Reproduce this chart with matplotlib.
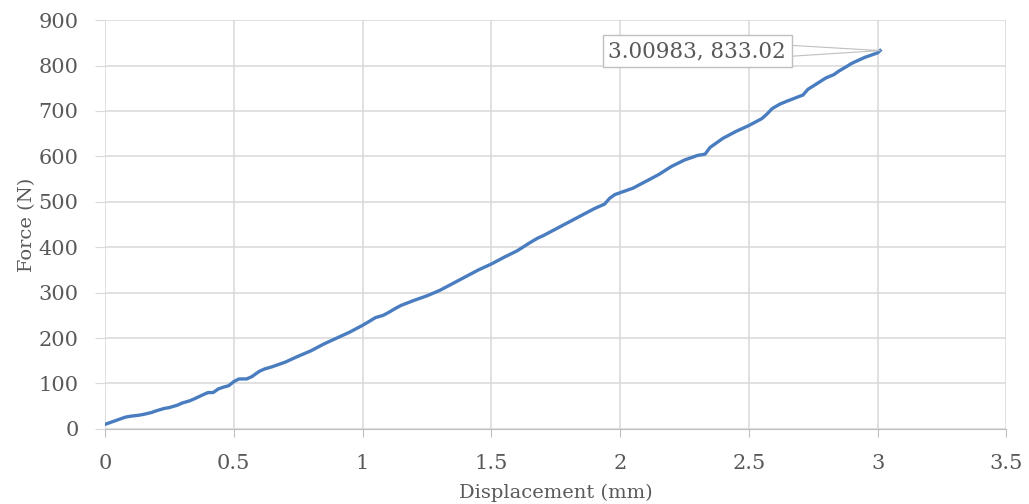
import numpy as np
import matplotlib
matplotlib.use('Agg')
import matplotlib.pyplot as plt

# displacement (mm) and force (N)
disp = [0.0, 0.02, 0.05, 0.08, 0.1, 0.13, 0.15, 0.18, 0.2, 0.23, 0.25, 0.28, 0.3, 0.33, 0.35,
        0.38, 0.4, 0.42, 0.44, 0.46, 0.48, 0.5, 0.52, 0.55, 0.57, 0.6, 0.62, 0.65, 0.7, 0.75,
        0.8, 0.85, 0.9, 0.95, 1.0, 1.03, 1.05, 1.08, 1.1, 1.13, 1.15, 1.2, 1.25, 1.3, 1.35,
        1.4, 1.45, 1.5, 1.55, 1.6, 1.65, 1.68, 1.7, 1.75, 1.8, 1.85, 1.9, 1.94, 1.96, 1.98,
        2.0, 2.05, 2.1, 2.15, 2.2, 2.25, 2.3, 2.33, 2.35, 2.38, 2.4, 2.45, 2.5, 2.55, 2.57,
        2.59, 2.62, 2.65, 2.7, 2.71, 2.73, 2.75, 2.8, 2.83, 2.85, 2.88, 2.9, 2.95, 3.0, 3.00983]
force = [10, 14, 20, 26, 28, 30, 32, 36, 40, 45, 47, 52, 57, 62, 67,
         75, 80, 80, 88, 92, 95, 104, 110, 110, 115, 127, 132, 137, 147, 160,
         172, 187, 200, 213, 228, 238, 245, 250, 256, 266, 272, 283, 293, 305, 320,
         335, 350, 363, 378, 392, 410, 420, 425, 440, 455, 470, 485, 495, 508, 516,
         520, 530, 545, 560, 578, 592, 602, 605, 620, 632, 640, 655, 668, 683, 693,
         705, 715, 722, 733, 735, 748, 755, 773, 780, 788, 798, 805, 818, 828, 833.02]

grey = '#595959'
plt.rcParams['font.family'] = 'DejaVu Serif'

fig = plt.figure(figsize=(10.29, 5.04), dpi=100)
ax = fig.add_axes([0.102, 0.149, 0.876, 0.811])

ax.plot(disp, force, color='#4a7dc0', lw=2.4, solid_joinstyle='round')

ax.set_xlim(0, 3.5)
ax.set_ylim(0, 900)
ax.set_xticks(np.arange(0, 3.51, 0.5))
ax.set_xticklabels(['0', '0.5', '1', '1.5', '2', '2.5', '3', '3.5'])
ax.set_yticks(np.arange(0, 901, 100))
ax.grid(True, color='#d9d9d9', lw=1.1)
ax.set_axisbelow(True)
for s in ['top', 'right', 'left']:
    ax.spines[s].set_visible(False)
ax.spines['bottom'].set_color('#bfbfbf')
ax.tick_params(axis='x', length=6, color='#bfbfbf', labelsize=15, labelcolor=grey, pad=12)
ax.tick_params(axis='y', length=7, color='#d9d9d9', labelsize=15, labelcolor=grey, pad=12)

ax.set_xlabel('Displacement (mm)', fontsize=14, color=grey, labelpad=8)
ax.set_ylabel('Force (N)', fontsize=14, color=grey, labelpad=2)

ax.annotate('3.00983, 833.02', xy=(disp[-1], force[-1]), xytext=(2.3, 832),
            ha='center', va='center', fontsize=15.5, color=grey,
            bbox=dict(boxstyle='square,pad=0.25', fc='white', ec='#bfbfbf', lw=1),
            arrowprops=dict(arrowstyle='wedge,tail_width=0.5', fc='white', ec='#bfbfbf',
                            lw=0.8, shrinkA=0, shrinkB=0))

plt.savefig('out.png', dpi=100)
plt.close()
